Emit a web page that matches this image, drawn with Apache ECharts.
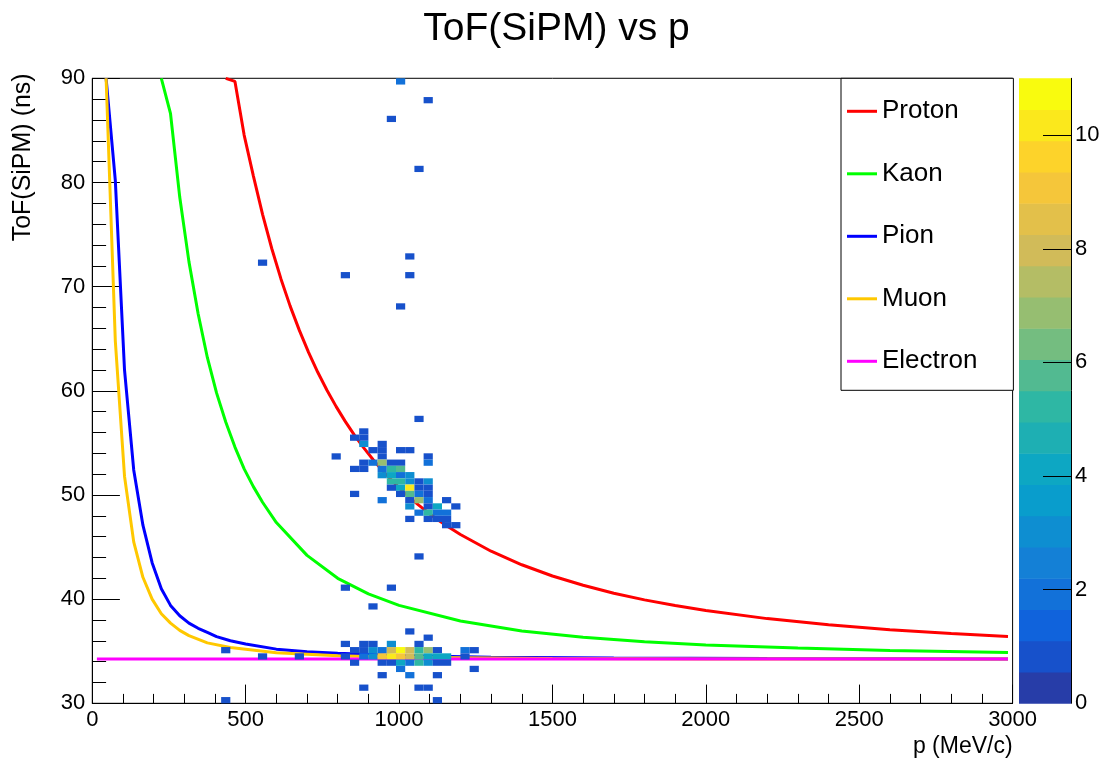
<!DOCTYPE html>
<html><head><meta charset="utf-8">
<script src="https://cdn.jsdelivr.net/npm/echarts@6/dist/echarts.min.js"></script>
<style>html,body{margin:0;padding:0;background:#fff}#c{width:1113px;height:764px}</style>
</head><body><div id="c"></div>
<script>
// ---------------- data ----------------
const binWidthP = 30;   // MeV/c
const binWidthT = 0.6;  // ns
// 2D histogram cells: lower bin edges (p, ToF) and counts
const cellP = [
  990,1080,960,1050,540,1020,810,1020,990,
  1050,870,840,870,870,930,900,930,990,1020,780,930,1080,
  870,900,930,960,990,1080,840,870,930,960,990,
  930,960,990,1020,960,990,1020,1050,1080,
  960,990,1020,1050,1080,840,990,1020,1050,1080,
  930,1020,1050,1080,1140,1020,1080,1110,1170,
  1050,1080,1110,1140,1020,1080,1110,1140,1140,1170,
  1050,810,960,900,1020,1080,
  810,870,900,960,1050,
  420,840,870,900,930,960,990,1020,1050,1080,1110,1200,1230,
  540,660,810,870,900,930,960,990,1020,1050,1080,1110,1140,1200,
  840,930,960,990,1020,1050,1080,1110,1140,
  990,1230,930,1020,1110,870,1050,1080,420,1110
];
const cellT = [
  89.4,87.6,85.8,81.0,72.0,72.6,70.8,70.8,67.8,
  57.0,55.8,55.2,55.2,54.6,54.6,54.0,54.0,54.0,54.0,53.4,53.4,53.4,
  52.8,52.8,52.8,52.8,52.8,52.8,52.2,52.2,52.2,52.2,52.2,
  51.6,51.6,51.6,51.6,51.0,51.0,51.0,51.0,51.0,
  50.4,50.4,50.4,50.4,50.4,49.8,49.8,49.8,49.8,49.8,
  49.2,49.2,49.2,49.2,49.2,48.6,48.6,48.6,48.6,
  48.0,48.0,48.0,48.0,47.4,47.4,47.4,47.4,46.8,46.8,
  43.8,40.8,40.8,39.0,36.6,36.0,
  35.4,35.4,35.4,35.4,35.4,
  34.8,34.8,34.8,34.8,34.8,34.8,34.8,34.8,34.8,34.8,34.8,34.8,34.8,
  34.2,34.2,34.2,34.2,34.2,34.2,34.2,34.2,34.2,34.2,34.2,34.2,34.2,34.2,
  33.6,33.6,33.6,33.6,33.6,33.6,33.6,33.6,33.6,
  33.0,33.0,32.4,32.4,32.4,31.2,31.2,31.2,30.0,30.0
];
const cellN = [
  2,1,1,1,1,1,1,1,1,
  1,1,1,1,3,1,1,1,1,1,1,1,1,
  1,2,7,1,1,2,1,1,2,5,6,
  3,4,2,3,5,5,3,1,3,
  1,4,10,1,1,1,1,6,2,1,
  2,1,7,2,1,3,1,4,1,
  2,5,2,2,1,1,1,1,1,1,
  1,1,1,1,1,1,
  1,1,1,3,1,
  1,1,1,3,2,8,11,8,5,7,1,2,1,
  1,1,1,2,3,9,10,9,8,6,4,4,4,1,
  1,1,1,4,2,5,3,1,1,
  2,1,1,2,1,1,1,1,1,1
];
// expected ToF curves
const protonP = [435,465,495,525,555,585,615,645,675,705,735,765,795,825,855,885,915,945,975,1005,1035,1065,1095,1125,1155,1200,1300,1400,1500,1600,1700,1800,1900,2000,2200,2400,2600,2800,2985];
const protonT = [90.0,89.7,84.55,80.64,76.94,73.66,70.74,68.13,65.8,63.69,61.78,60.05,58.48,57.04,55.72,54.52,53.41,52.38,51.44,50.56,49.75,49.0,48.3,47.65,47.04,46.2,44.6,43.3,42.22,41.33,40.57,39.93,39.38,38.91,38.13,37.54,37.07,36.7,36.42];
const kaonP = [225,255,285,315,345,375,405,435,465,495,525,555,600,700,800,900,1000,1200,1400,1600,1800,2000,2300,2600,2985];
const kaonT = [90.0,86.6,78.6,72.4,67.4,63.2,59.8,57.0,54.6,52.5,50.8,49.3,47.35,44.2,42.0,40.5,39.4,37.9,36.95,36.35,35.9,35.6,35.3,35.07,34.88];
const pionP = [45,75,105,135,165,195,225,255,285,315,345,375,405,450,500,600,700,800,1000,1300,1700,2200,2985];
const pionT = [90.0,80.2,62.0,52.4,47.1,43.5,41.0,39.4,38.4,37.7,37.2,36.8,36.4,36.0,35.7,35.2,34.95,34.8,34.6,34.43,34.35,34.3,34.25];
const muonP = [45,75,105,135,165,195,225,255,285,315,375,450,600,800,1000,1500,2000,2985];
const muonT = [90.0,64.8,51.8,45.5,42.1,40.0,38.6,37.7,37.0,36.5,35.8,35.35,34.85,34.56,34.43,34.3,34.26,34.25];
const electronP = [15,2985];
const electronT = [34.25,34.25];
const seriesNames = ['Proton','Kaon','Pion','Muon','Electron'];
const zMax = 11;
const nContours = 20;
const zTickValues = [0,2,4,6,8,10];

// ---------------- palette (ROOT kBird) ----------------
const birdStops = [0,0.125,0.25,0.375,0.5,0.625,0.75,0.875,1];
const birdR = [0.2082,0.0592,0.0780,0.0232,0.1802,0.5301,0.8186,0.9956,0.9764];
const birdG = [0.1664,0.3599,0.5041,0.6419,0.7178,0.7492,0.7328,0.7862,0.9832];
const birdB = [0.5293,0.8684,0.8385,0.7914,0.6425,0.4662,0.3499,0.1968,0.0539];
function birdColor(f) {
  f = Math.max(0, Math.min(1, f));
  let s = 0;
  while (s < birdStops.length - 2 && f > birdStops[s + 1]) s++;
  const u = (f - birdStops[s]) / (birdStops[s + 1] - birdStops[s]);
  const c = (a) => Math.round(255 * (a[s] + (a[s + 1] - a[s]) * u));
  return 'rgb(' + c(birdR) + ',' + c(birdG) + ',' + c(birdB) + ')';
}
function bandColor(k) {
  const idx = Math.floor((k + 0.99) * 255 / nContours);
  return birdColor(idx / 254);
}
function countColor(n) {
  let k = Math.floor(0.01 + n * nContours / zMax);
  if (k > nContours - 1) k = nContours - 1;
  return bandColor(k);
}
const bands = [];
for (let k = 0; k < nContours; k++) bands.push([k * zMax / nContours, (k + 1) * zMax / nContours, k]);

// ---------------- chart ----------------
const FONT = 'Liberation Sans';
const chart = echarts.init(document.getElementById('c'), null, {renderer: 'canvas'});
const lineColors = ['#ff0000', '#00ff00', '#0000ff', '#ffc800', '#ff00ff'];
const curveData = [
  protonP.map((p, i) => [p, protonT[i]]),
  kaonP.map((p, i) => [p, kaonT[i]]),
  pionP.map((p, i) => [p, pionT[i]]),
  muonP.map((p, i) => [p, muonT[i]]),
  electronP.map((p, i) => [p, electronT[i]])
];
const lineSeries = seriesNames.map((name, i) => ({
  name: name, type: 'line', xAxisIndex: 0, yAxisIndex: 0,
  data: curveData[i], showSymbol: false, symbol: 'none', smooth: false,
  color: lineColors[i], lineStyle: {color: lineColors[i], width: 3},
  z: 2, silent: true, clip: true
}));

const option = {
  animation: false,
  backgroundColor: '#ffffff',
  title: {
    text: 'ToF(SiPM) vs p', left: 'center', top: 5,
    textStyle: {fontFamily: FONT, fontSize: 39, fontWeight: 'normal', color: '#000'}
  },
  legend: {
    data: seriesNames, orient: 'vertical', left: 841, top: 78.3,
    icon: 'rect', itemWidth: 30, itemHeight: 3, itemGap: 32.5,
    textStyle: {fontFamily: FONT, fontSize: 26, color: '#000', lineHeight: 30},
    backgroundColor: '#ffffff', borderColor: '#000', borderWidth: 1, borderRadius: 0,
    padding: [18, 36, 14, 6], selectedMode: false
  },
  grid: [
    {left: 92.3, top: 78.3, right: 100.4, bottom: 60.7, show: true, borderColor: '#000', borderWidth: 1,
     backgroundColor: 'transparent', containLabel: false, outerBoundsMode: 'none'},
    {left: 1019, top: 78.3, width: 52, bottom: 60.7, show: false, containLabel: false, outerBoundsMode: 'none'},
    {left: 1019, top: 78.3, width: 24, bottom: 60.7, show: false, containLabel: false, outerBoundsMode: 'none'}
  ],
  xAxis: [
    {type: 'value', gridIndex: 0, min: 0, max: 3000, interval: 500,
     name: 'p (MeV/c)', nameLocation: 'end', nameGap: 0,
     nameTextStyle: {fontFamily: FONT, fontSize: 23, color: '#000', align: 'right', verticalAlign: 'top', padding: [32, 0, 0, 0]},
     axisLine: {show: true, onZero: false, lineStyle: {color: '#000', width: 1}},
     axisTick: {show: true, inside: true, length: 18.7, lineStyle: {color: '#000', width: 1}},
     minorTick: {show: true, splitNumber: 5, length: 9.4, lineStyle: {color: '#000', width: 1}},
     axisLabel: {fontFamily: FONT, fontSize: 22, color: '#000', margin: 6, formatter: (v) => String(v)},
     splitLine: {show: false}, minorSplitLine: {show: false}},
    {type: 'value', gridIndex: 1, min: 0, max: 1, show: false},
    {type: 'value', gridIndex: 2, min: 0, max: 1, show: false}
  ],
  yAxis: [
    {type: 'value', gridIndex: 0, min: 30, max: 90, interval: 10,
     name: 'ToF(SiPM) (ns)', nameLocation: 'end', nameGap: 5, nameRotate: 90,
     nameTextStyle: {fontFamily: FONT, fontSize: 25, color: '#000', align: 'right', verticalAlign: 'bottom', padding: [0, 0, 57, 0]},
     axisLine: {show: true, onZero: false, lineStyle: {color: '#000', width: 1}},
     axisTick: {show: true, inside: true, length: 27.6, lineStyle: {color: '#000', width: 1}},
     minorTick: {show: true, splitNumber: 5, length: 13.8, lineStyle: {color: '#000', width: 1}},
     axisLabel: {fontFamily: FONT, fontSize: 22, color: '#000', margin: 7, formatter: (v) => String(v)},
     splitLine: {show: false}, minorSplitLine: {show: false}},
    {type: 'value', gridIndex: 1, min: 0, max: zMax, position: 'right', z: 5,
     axisLine: {show: true, onZero: false, lineStyle: {color: '#000', width: 1}},
     axisTick: {show: false}, axisLabel: {show: false}, splitLine: {show: false}},
    {type: 'value', gridIndex: 2, min: 0, max: zMax, position: 'right', z: 5,
     axisLine: {show: false, onZero: false},
     axisTick: {show: true, inside: false, length: 28, customValues: [2, 4, 6, 8, 10], lineStyle: {color: '#000', width: 1}},
     axisLabel: {fontFamily: FONT, fontSize: 22, color: '#000', margin: 32, customValues: zTickValues},
     splitLine: {show: false}}
  ],
  series: lineSeries.concat([
    {
      type: 'custom', name: 'hist', xAxisIndex: 0, yAxisIndex: 0, z: 3, silent: true,
      data: cellP.map((p, i) => [p, cellT[i], cellN[i]]),
      encode: {x: 0, y: 1},
      renderItem: function (params, api) {
        const p = api.value(0), t = api.value(1), n = api.value(2);
        const a = api.coord([p, t]);
        const b = api.coord([p + binWidthP, t + binWidthT]);
        return {type: 'rect', shape: {x: a[0], y: b[1], width: b[0] - a[0], height: a[1] - b[1]},
                style: {fill: countColor(n)}};
      }
    },
    {
      type: 'custom', name: 'palette', xAxisIndex: 1, yAxisIndex: 1, z: 0, silent: true,
      data: bands, encode: {y: [0, 1]},
      renderItem: function (params, api) {
        const lo = api.value(0), hi = api.value(1), k = api.value(2);
        const a = api.coord([0, lo]);
        const b = api.coord([1, hi]);
        return {type: 'rect', shape: {x: a[0], y: b[1], width: b[0] - a[0], height: a[1] - b[1] + 0.5},
                style: {fill: bandColor(k)}};
      }
    }
  ])
};
chart.setOption(option);
</script>
</body></html>
